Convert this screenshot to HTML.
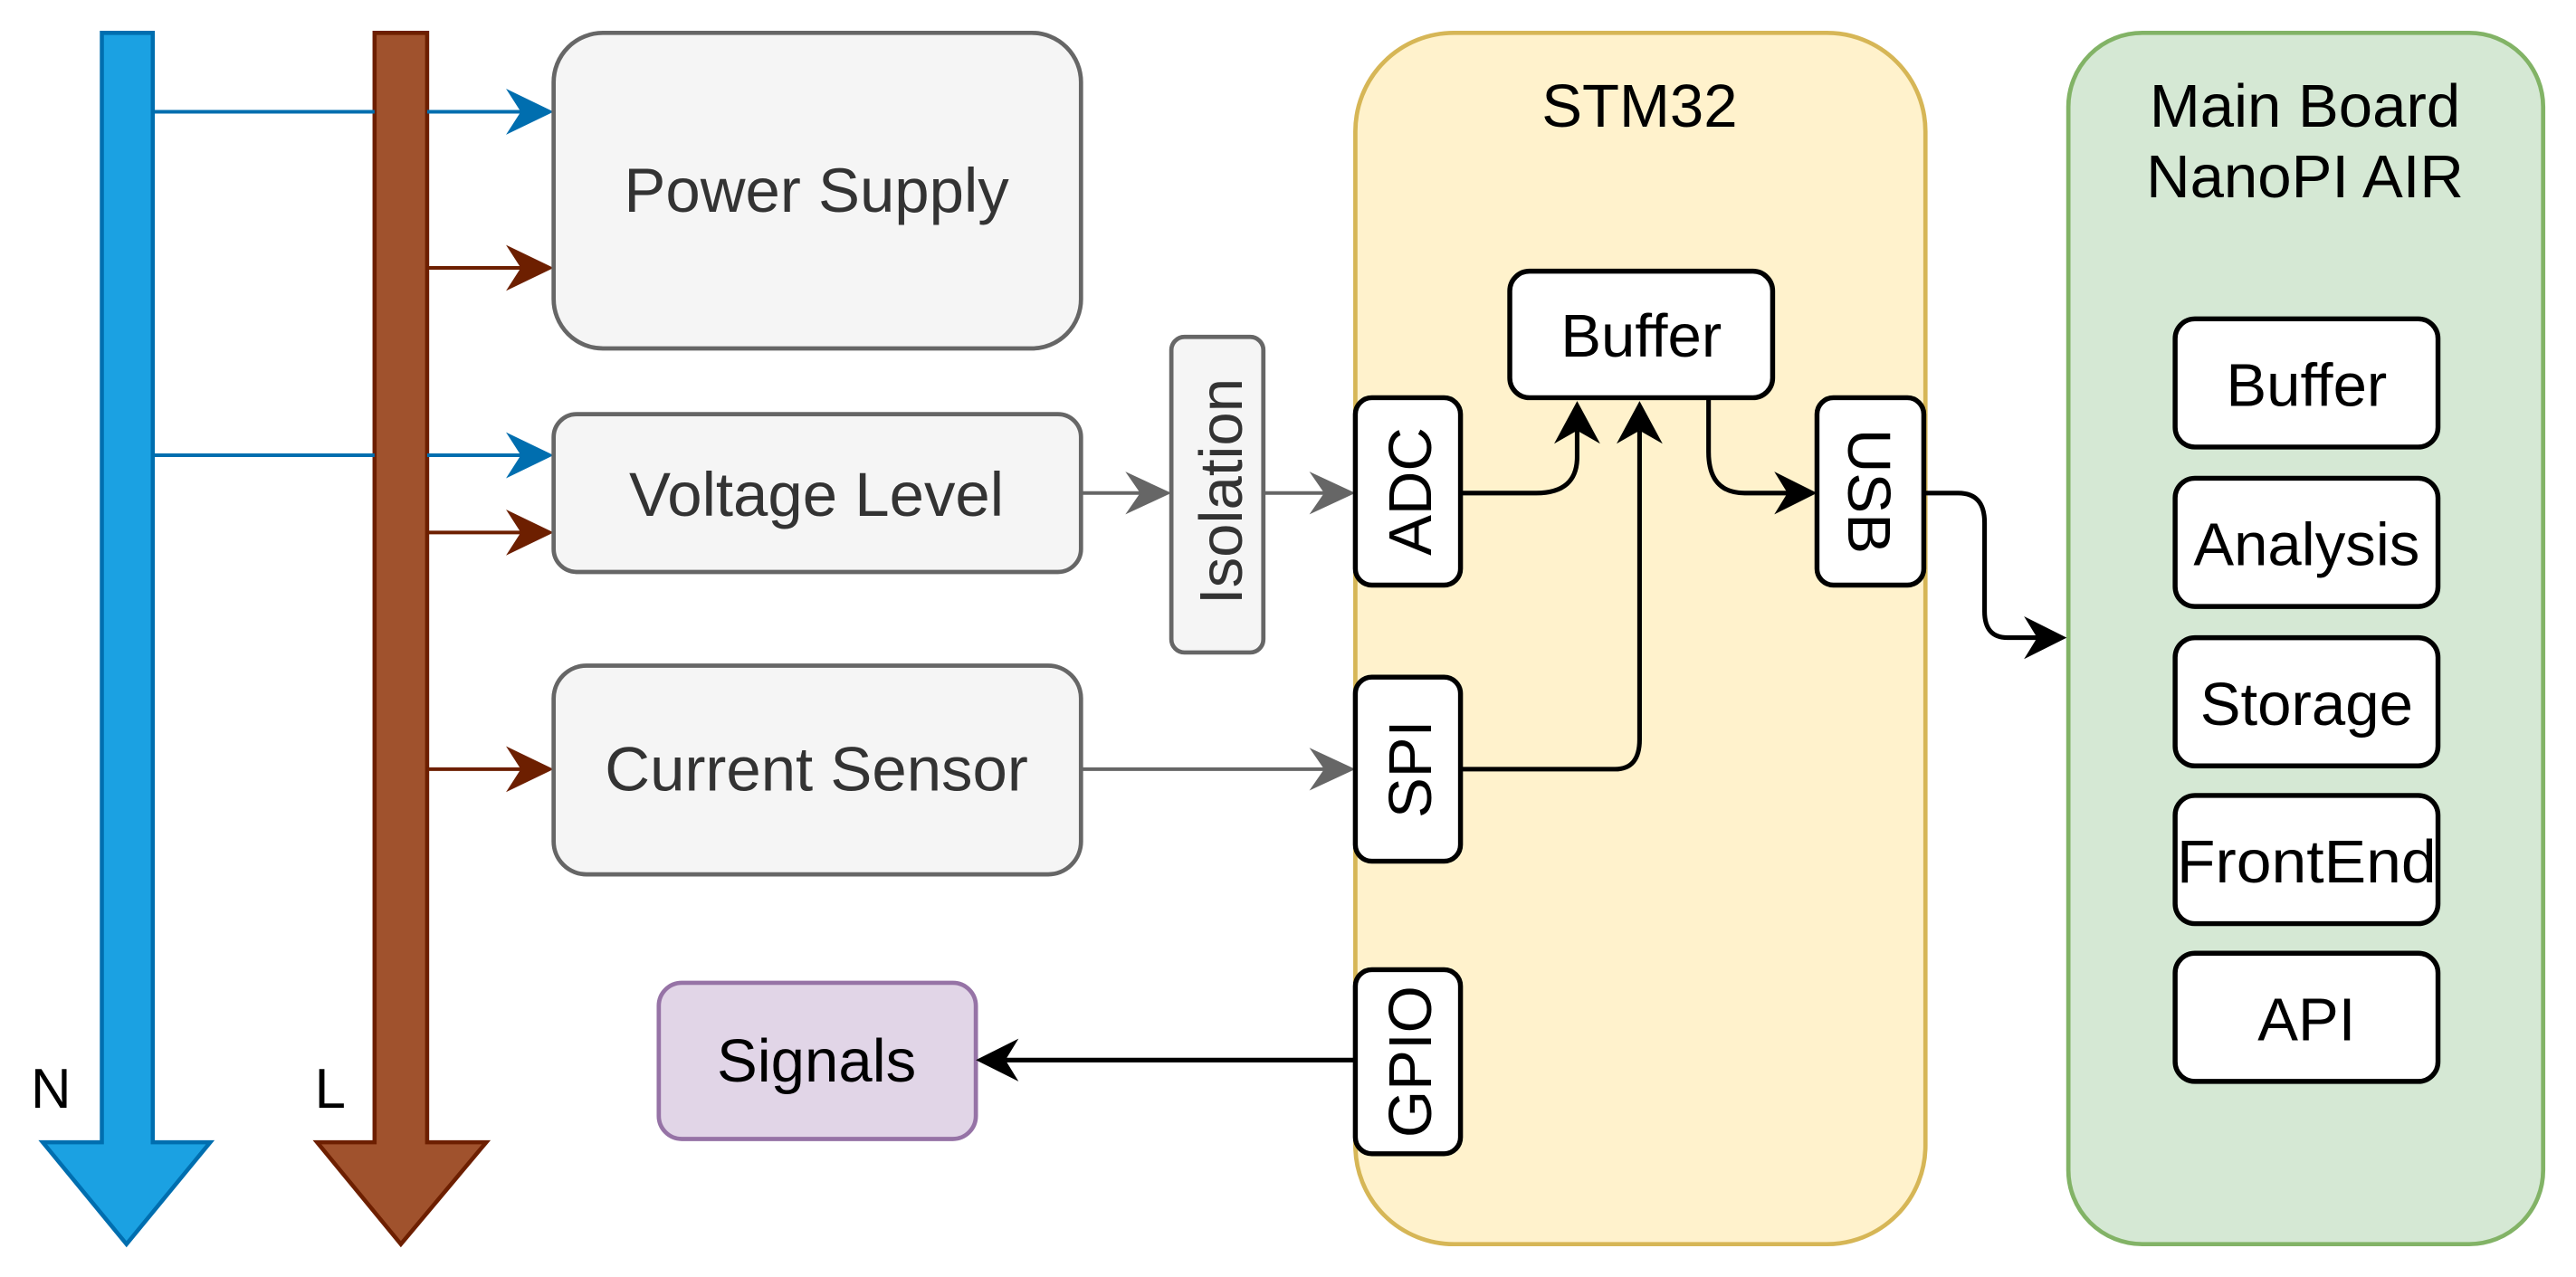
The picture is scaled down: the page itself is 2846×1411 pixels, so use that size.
<!DOCTYPE html>
<html><head><meta charset="utf-8"><style>
html,body{margin:0;padding:0;background:#fff;}
svg{display:block;}
text{font-family:"Liberation Sans",Arial,sans-serif;}
</style></head><body>
<svg width="2846" height="1411" viewBox="0 0 1568 777" preserveAspectRatio="none" xmlns="http://www.w3.org/2000/svg">
<!-- N arrow -->
<path d="M62,20 H93 V695 H128 L77,757 L26,695 H62 Z" fill="#1ba1e2" stroke="#006eaf" stroke-width="2.5"/>
<!-- L arrow -->
<path d="M228,20 H260 V695 H296 L244,757 L193,695 H228 Z" fill="#a0522d" stroke="#6d1f00" stroke-width="2.5"/>
<text x="31" y="674" font-size="34" text-anchor="middle" fill="#000">N</text>
<text x="201" y="674" font-size="34" text-anchor="middle" fill="#000">L</text>
<!-- blue lines -->
<g stroke="#006eaf" stroke-width="2.2" fill="none">
<line x1="93" y1="68" x2="228" y2="68"/><line x1="260" y1="68" x2="318" y2="68"/>
<line x1="93" y1="277" x2="228" y2="277"/><line x1="260" y1="277" x2="318" y2="277"/>
</g>
<g fill="#006eaf">
<path d="M337,68 L308,54 L317,68 L308,82 Z"/><path d="M337,277 L308,263 L317,277 L308,291 Z"/>
</g>
<g stroke="#6d1f00" stroke-width="2.2"><line x1="260" y1="163" x2="318" y2="163"/><line x1="260" y1="324" x2="318" y2="324"/><line x1="260" y1="468" x2="318" y2="468"/></g>
<g fill="#6d1f00"><path d="M337,163 L308,149 L317,163 L308,177 Z"/><path d="M337,324 L308,310 L317,324 L308,338 Z"/><path d="M337,468 L308,454 L317,468 L308,482 Z"/></g>
<!-- gray boxes -->
<g fill="#f5f5f5" stroke="#666" stroke-width="2.6">
<rect x="337" y="20" width="321" height="192" rx="30"/>
<rect x="337" y="252" width="321" height="96" rx="14"/>
<rect x="337" y="405" width="321" height="127" rx="20"/>
<rect x="713" y="205" width="56" height="192" rx="8"/>
</g>
<g font-size="38" fill="#333" text-anchor="middle">
<text x="497" y="129">Power Supply</text>
<text x="497" y="314">Voltage Level</text>
<text x="497" y="481">Current Sensor</text>
<text transform="translate(756,299) rotate(-90)" text-anchor="middle" font-size="37">Isolation</text>
</g>
<!-- gray connectors -->
<g stroke="#666" stroke-width="2.2"><line x1="658" y1="300" x2="695" y2="300"/><line x1="769" y1="300" x2="807" y2="300"/><line x1="658" y1="468" x2="807" y2="468"/></g>
<g fill="#666"><path d="M713,300 L685,287 L694,300 L685,313 Z"/><path d="M825,300 L797,287 L806,300 L797,313 Z"/><path d="M825,468 L797,455 L806,468 L797,481 Z"/></g>
<!-- signals -->
<rect x="401" y="598" width="193" height="95" rx="14" fill="#e1d5e7" stroke="#9673a6" stroke-width="2.6"/>
<text x="497" y="658" font-size="37" text-anchor="middle" fill="#000">Signals</text>
<!-- STM32 -->
<rect x="825" y="20" width="347" height="737" rx="60" fill="#fff2cc" stroke="#d6b656" stroke-width="2.6"/>
<text x="998" y="77" font-size="37" text-anchor="middle">STM32</text>
<!-- Main board -->
<rect x="1259" y="20" width="289" height="737" rx="45" fill="#d5e8d4" stroke="#82b366" stroke-width="2.6"/>
<text x="1403" y="77" font-size="37" text-anchor="middle">Main Board</text>
<text x="1403" y="120" font-size="37" text-anchor="middle">NanoPI AIR</text>
<!-- black boxes -->
<g fill="#fff" stroke="#000" stroke-width="3">
<rect x="825" y="242" width="64" height="114" rx="10"/>
<rect x="825" y="412" width="64" height="112" rx="10"/>
<rect x="825" y="590" width="64" height="112" rx="10"/>
<rect x="1106" y="242" width="65" height="114" rx="10"/>
<rect x="919" y="165" width="160" height="77" rx="12"/>
<rect x="1324" y="194" width="160" height="78" rx="12"/>
<rect x="1324" y="291" width="160" height="78" rx="12"/>
<rect x="1324" y="388" width="160" height="78" rx="12"/>
<rect x="1324" y="484" width="160" height="78" rx="12"/>
<rect x="1324" y="580" width="160" height="78" rx="12"/>
</g>
<g font-size="37" text-anchor="middle" fill="#000">
<text transform="translate(871,299) rotate(-90)">ADC</text>
<text transform="translate(871,468) rotate(-90)">SPI</text>
<text transform="translate(871,646) rotate(-90)">GPIO</text>
<text transform="translate(1125,299) rotate(90)">USB</text>
<text x="999" y="217">Buffer</text>
<text x="1404" y="247">Buffer</text>
<text x="1404" y="344">Analysis</text>
<text x="1404" y="441">Storage</text>
<text x="1404" y="537" textLength="158" lengthAdjust="spacingAndGlyphs">FrontEnd</text>
<text x="1404" y="633">API</text>
</g>
<!-- black connectors -->
<g stroke="#000" stroke-width="2.8" fill="none">
<path d="M889,300 H935 Q960,300 960,278 V262"/>
<path d="M889,468 H983 Q998,468 998,450 V262"/>
<path d="M1040,242 V275 Q1040,300 1062,300 H1090"/>
<path d="M1171,300 H1192 Q1208,300 1208,318 V372 Q1208,388 1222,388 H1242"/>
<path d="M825,645 H612"/>
</g>
<g fill="#000">
<path d="M960,244 L946,270 L960,262 L974,270 Z"/>
<path d="M998,244 L984,270 L998,262 L1012,270 Z"/>
<path d="M1106,300 L1080,287 L1088,300 L1080,313 Z"/>
<path d="M1258,388 L1232,375 L1240,388 L1232,401 Z"/>
<path d="M594,645 L620,632 L612,645 L620,658 Z"/>
</g>
</svg>
</body></html>
